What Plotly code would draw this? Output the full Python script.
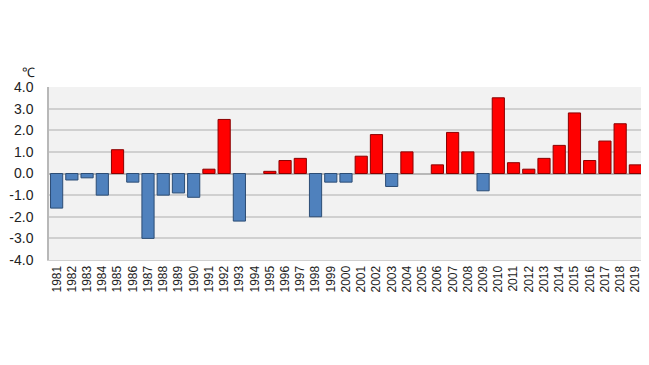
import plotly.graph_objects as go

years = [str(y) for y in range(1981, 2020)]
anomaly = [-1.6, -0.3, -0.2, -1.0, 1.1, -0.4, -3.0, -1.0, -0.9, -1.1,
           0.2, 2.5, -2.2, 0.0, 0.1, 0.6, 0.7, -2.0, -0.4, -0.4,
           0.8, 1.8, -0.6, 1.0, 0.0, 0.4, 1.9, 1.0, -0.8, 3.5,
           0.5, 0.2, 0.7, 1.3, 2.8, 0.6, 1.5, 2.3, 0.4]
y_ticks = [-4, -3, -2, -1, 0, 1, 2, 3, 4]
y_labels = ["-4.0", "-3.0", "-2.0", "-1.0", "0.0", "1.0", "2.0", "3.0", "4.0"]

fill = ["#ff0000" if v > 0 else "#4f81bd" for v in anomaly]
edge = ["#8b0000" if v > 0 else "#2c4d75" for v in anomaly]
edge_w = [1 if v != 0 else 0 for v in anomaly]

fig = go.Figure(go.Bar(
    x=years, y=anomaly,
    marker=dict(color=fill, line=dict(color=edge, width=edge_w)),
))

# page body has an 8px default margin; compensate so the plot lands where the reference has it
fig.update_layout(
    width=641, height=357,
    margin=dict(l=41, r=6, t=79, b=105, autoexpand=False),
    paper_bgcolor="white",
    plot_bgcolor="#f2f2f2",
    bargap=0.2,
    showlegend=False,
    font=dict(family="Liberation Sans, Arial", color="#222222"),
    annotations=[dict(text="℃", xref="paper", yref="paper", x=-0.035, y=1.081,
                      xanchor="center", yanchor="middle", showarrow=False,
                      font=dict(size=13, color="#222222"))],
)
fig.update_yaxes(
    range=[-4, 4], tickvals=y_ticks, ticktext=y_labels,
    showgrid=True, gridcolor="#d0d0d0", gridwidth=1.5,
    zeroline=True, zerolinecolor="#b8b8b8", zerolinewidth=1.5,
    showline=True, linecolor="#b8b8b8", linewidth=1.5,
    ticks="", ticklabelstandoff=11,
    tickfont=dict(size=14, family="Liberation Sans, Arial", color="#222222"),
)
fig.update_xaxes(
    tickangle=-90, showgrid=False,
    showline=True, linecolor="#d0d0d0", linewidth=1,
    tickfont=dict(size=12, family="Liberation Sans, Arial", color="#222222"),
)

fig.write_html("out.html")
